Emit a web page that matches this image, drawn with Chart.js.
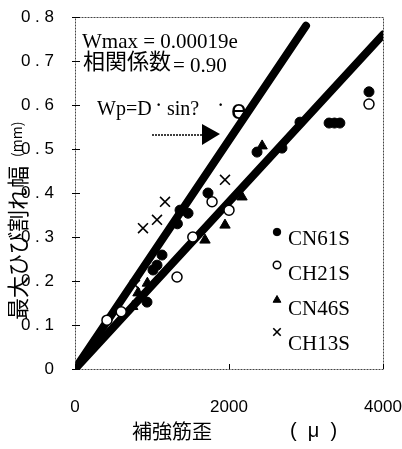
<!DOCTYPE html>
<html>
<head>
<meta charset="utf-8">
<script src="https://cdn.jsdelivr.net/npm/chart.js@4/dist/chart.umd.min.js"></script>
<style>
  html, body { margin: 0; padding: 0; background: #fff; }
  #wrap { width: 402px; height: 449px; }
</style>
</head>
<body>
<div id="wrap"><canvas id="myChart" width="402" height="449"></canvas></div>
<script>
// series data (x = 補強筋歪 in μ, y = crack width in mm)
var cn61s = [[935,0.152],[1013,0.225],[1065,0.236],[1130,0.259],[1330,0.33],[1364,0.361],[1468,0.354],
             [1727,0.40],[2364,0.493],[2688,0.502],[2922,0.561],[3300,0.559],[3370,0.559],[3440,0.559],[3818,0.63]];
var ch21s = [[415,0.111],[600,0.13],[1325,0.209],[1530,0.30],[1780,0.38],[2000,0.361],[3818,0.602]];
var cn46s = [[750,0.142],[818,0.173],[940,0.195],[1688,0.293],[1948,0.327],[2169,0.391],[2430,0.507]];
var ch13s = [[779,0.191],[883,0.32],[1065,0.339],[1169,0.38],[1948,0.43]];

// the two straight lines
var wmaxLine = [[0,0],[4000,0.76]];
var wpLine = [[0,0],[3000,0.78]];

var seriesNames = ['CN61S', 'CH21S', 'CN46S', 'CH13S'];
var xTicks = [0, 2000, 4000];
var yTicks = [0, 0.1, 0.2, 0.3, 0.4, 0.5, 0.6, 0.7, 0.8];

function toPts(arr) {
    var out = [];
    for (var i = 0; i < arr.length; i++) {
        out.push({x: arr[i][0], y: arr[i][1]});
    }
    return out;
}

var serif = '"Liberation Serif", "Times New Roman", serif';
var sans = '"Liberation Sans", Arial, sans-serif';
var cjk = '"Noto Sans CJK JP", "Noto Sans", sans-serif';

// frame, inward ticks
var framePlugin = {
    id: 'frame',
    afterDatasetsDraw: function(chart) {
        var ctx = chart.ctx;
        var a = chart.chartArea;
        var xs = chart.scales.x, ys = chart.scales.y;
        ctx.save();
        ctx.strokeStyle = '#444';
        ctx.lineWidth = 1;
        ctx.setLineDash([2, 1]);
        ctx.strokeRect(a.left + 0.5, a.top + 0.5, a.right - a.left, a.bottom - a.top);
        ctx.setLineDash([]);
        ctx.strokeStyle = '#000';
        for (var i = 0; i < yTicks.length; i++) {
            var py = Math.round(ys.getPixelForValue(yTicks[i])) + 0.5;
            ctx.beginPath();
            ctx.moveTo(a.left - 3, py);
            ctx.lineTo(a.left + 5, py);
            ctx.stroke();
        }
        for (var j = 0; j < xTicks.length; j++) {
            var px = Math.round(xs.getPixelForValue(xTicks[j])) + 0.5;
            ctx.beginPath();
            ctx.moveTo(px, a.bottom);
            ctx.lineTo(px, a.bottom - 5);
            ctx.stroke();
        }
        ctx.restore();
    }
};

// texts, arrow and legend
var textPlugin = {
    id: 'texts',
    afterDraw: function(chart) {
        var ctx = chart.ctx;
        ctx.save();
        ctx.fillStyle = '#000';
        ctx.textBaseline = 'alphabetic';
        ctx.textAlign = 'left';

        ctx.font = '21px ' + serif;
        ctx.fillText('Wmax = 0.00019e', 82, 48);
        ctx.font = '22px ' + cjk;
        ctx.fillText('相関係数', 83, 69);
        ctx.font = '21px ' + serif;
        ctx.fillText('= 0.90', 173, 72);

        ctx.font = '20px ' + serif;
        ctx.fillText('Wp=D', 97, 115);
        ctx.fillText('sin?', 167, 115);
        ctx.font = 'bold 16px ' + serif;
        ctx.fillText('·', 156, 110);
        ctx.fillText('·', 218, 110);
        ctx.font = '28px ' + sans;
        ctx.fillText('e', 231, 119);

        // arrow
        ctx.strokeStyle = '#000';
        ctx.lineWidth = 1.5;
        ctx.setLineDash([2, 1]);
        ctx.beginPath();
        ctx.moveTo(152, 135);
        ctx.lineTo(204, 135);
        ctx.stroke();
        ctx.setLineDash([]);
        ctx.beginPath();
        ctx.moveTo(202, 124);
        ctx.lineTo(220, 134);
        ctx.lineTo(202, 145);
        ctx.closePath();
        ctx.fill();

        // axis titles
        ctx.font = '20px ' + cjk;
        ctx.textBaseline = 'middle';
        ctx.fillText('補強筋歪', 132, 431);
        ctx.font = '20px ' + sans;
        ctx.fillText('(  μ  )', 290, 431);

        ctx.save();
        ctx.translate(18, 320);
        ctx.rotate(-Math.PI / 2);
        ctx.font = '22px ' + cjk;
        ctx.fillText('最大ひび割れ幅', 0, 0);
        ctx.font = '14px ' + cjk;
        ctx.fillText('(mm)', 163, -1);
        ctx.restore();

        // legend
        var ds = chart.data.datasets;
        var markY = [232, 265, 300, 332];
        var baseY = [245, 280, 315, 350];
        ctx.textBaseline = 'alphabetic';
        ctx.font = '21px ' + serif;
        for (var i = 0; i < seriesNames.length; i++) {
            var d = ds[i];
            ctx.fillStyle = d.backgroundColor;
            ctx.strokeStyle = d.borderColor;
            ctx.lineWidth = d.borderWidth;
            Chart.helpers.drawPoint(ctx, {pointStyle: d.pointStyle, radius: d.pointRadius * 0.75, rotation: 0, borderWidth: d.borderWidth}, 277, markY[i]);
            ctx.fillStyle = '#000';
            ctx.fillText(seriesNames[i], 288, baseY[i]);
        }
        ctx.restore();
    }
};

var ctx = document.getElementById('myChart').getContext('2d');
var myChart = new Chart(ctx, {
    type: 'scatter',
    data: {
        datasets: [
            {label: seriesNames[0], data: toPts(cn61s), pointStyle: 'circle', pointRadius: 5,
             backgroundColor: '#000', borderColor: '#000', borderWidth: 1, order: 1},
            {label: seriesNames[1], data: toPts(ch21s), pointStyle: 'circle', pointRadius: 5,
             backgroundColor: '#fff', borderColor: '#000', borderWidth: 1.5, order: 1},
            {label: seriesNames[2], data: toPts(cn46s), pointStyle: 'triangle', pointRadius: 6,
             backgroundColor: '#000', borderColor: '#000', borderWidth: 1, order: 1},
            {label: seriesNames[3], data: toPts(ch13s), pointStyle: 'crossRot', pointRadius: 7,
             backgroundColor: '#000', borderColor: '#000', borderWidth: 1.6, order: 1},
            {label: 'Wmax', data: toPts(wmaxLine), showLine: true, pointRadius: 0, borderWidth: 8,
             borderColor: '#000', borderCapStyle: 'round', order: 2},
            {label: 'Wp', data: toPts(wpLine), showLine: true, pointRadius: 0, borderWidth: 8,
             borderColor: '#000', borderCapStyle: 'round', order: 2}
        ]
    },
    options: {
        responsive: false,
        animation: false,
        devicePixelRatio: 1,
        layout: { padding: { top: 17, right: 19, left: 0, bottom: 0 } },
        plugins: { legend: { display: false }, tooltip: { enabled: false } },
        scales: {
            x: {
                type: 'linear', min: 0, max: 4000,
                afterFit: function(s) { s.height = 80; s.paddingLeft = 0; s.paddingRight = 0; },
                afterBuildTicks: function(s) { s.ticks = xTicks.map(function(v) { return {value: v}; }); },
                grid: { display: false },
                border: { display: false },
                ticks: { color: '#000', font: { family: sans, size: 17 }, padding: 20, maxRotation: 0,
                         callback: function(v) { return String(v); } }
            },
            y: {
                type: 'linear', min: 0, max: 0.8,
                afterFit: function(s) { s.width = 75; s.paddingTop = 0; s.paddingBottom = 0; },
                afterBuildTicks: function(s) { s.ticks = yTicks.map(function(v) { return {value: v}; }); },
                grid: { display: false },
                border: { display: false },
                ticks: { color: '#000', font: { family: sans, size: 17 }, padding: 13,
                         callback: function(v) {
                             if (v === 0) { return '0'; }
                             return v.toFixed(1).split('').join(' ');
                         } }
            }
        }
    },
    plugins: [framePlugin, textPlugin]
});
</script>
</body>
</html>
